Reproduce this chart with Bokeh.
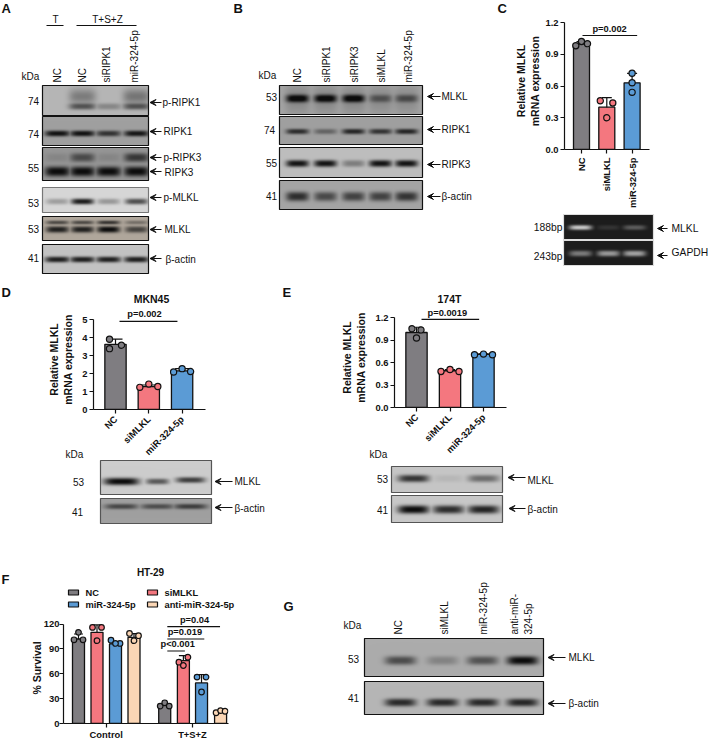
import math
import numpy as np
from bokeh.plotting import figure
from bokeh.models import Column, Arrow, VeeHead, FixedTicker, Whisker, TeeHead, ColumnDataSource, Range1d
from bokeh.core.properties import value
from bokeh.embed import file_html
from bokeh.resources import INLINE

W, H = 708, 743
FONT = "Liberation Sans"

# ---------- data: bar charts ----------
C_cats = ["NC", "siMLKL", "miR-324-5p"]
C_means = [1.00, 0.40, 0.63]
C_sd = [0.02, 0.09, 0.09]
C_pts = [[0.98, 1.02, 1.00], [0.46, 0.44, 0.30], [0.72, 0.63, 0.54]]
D_cats = ["NC", "siMLKL", "miR-324-5p"]
D_means = [3.62, 1.27, 2.15]
D_sd = [0.29, 0.09, 0.12]
D_pts = [[3.38, 3.90, 3.57], [1.23, 1.41, 1.28], [2.27, 2.08, 2.11]]
E_cats = ["NC", "siMLKL", "miR-324-5p"]
E_means = [1.00, 0.49, 0.71]
E_sd = [0.07, 0.015, 0.005]
E_pts = [[1.05, 1.035, 0.927], [0.48, 0.506, 0.48], [0.703, 0.712, 0.703]]
F_groups = ["Control", "T+S+Z"]
F_series = ["NC", "siMLKL", "miR-324-5p", "anti-miR-324-5p"]
F_means = [102, 110, 96, 104, 22, 76, 49, 14]
F_sd = [6, 9, 3, 4.5, 2, 6, 10, 1.5]
F_pts = [[110, 101, 101], [116, 116, 100], [100.5, 96.6, 96.6], [108.7, 106, 100],
         [21, 25, 21], [74, 70, 80], [56, 56, 38], [13, 15.6, 14.8]]
COL = ["#7f7d81", "#f4777f", "#5b9bd5", "#fbd6b5"]

# ---------- data: band intensities per lane ----------
A_pRIPK1 = [0.0, 0.50, 0.22, 0.50]
A_pRIPK1_smear = [0.0, 0.28, 0.0, 0.32]
A_RIPK1 = [0.95, 0.95, 0.70, 0.92]
A_RIPK3 = [1.0, 1.0, 1.0, 1.0]
A_pRIPK3 = [0.08, 0.50, 0.08, 0.65]
A_pMLKL = [0.22, 0.90, 0.25, 0.62]
A_MLKL_up = [0.55, 0.55, 0.70, 0.30]
A_MLKL_lo = [0.85, 0.85, 1.0, 0.60]
A_actin = [0.88, 0.88, 0.88, 0.88]
B_MLKL = [1.0, 1.0, 1.0, 0.40, 0.45]
B_MLKL_smear = [0.14, 0.14, 0.14, 0.12, 0.12]
B_RIPK1 = [0.75, 0.35, 0.80, 0.70, 0.80]
B_RIPK3 = [0.95, 0.95, 0.30, 0.95, 0.95]
B_actin = [0.75, 0.55, 0.60, 0.60, 0.70]
C_gel_MLKL = [0.80, 0.08, 0.25]
C_gel_GAPDH = [0.40, 0.55, 0.60]
D_MLKL = [1.0, 0.55, 0.70]
D_actin = [0.55, 0.50, 0.62]
E_MLKL = [0.75, 0.05, 0.42]
E_actin = [1.0, 0.80, 0.85]
G_MLKL = [0.55, 0.20, 0.50, 1.0]
G_actin = [0.80, 0.80, 0.80, 0.82]

page = figure(width=W, height=H, x_range=(0, W), y_range=(0, H), toolbar_location=None,
              output_backend="svg", min_border_left=0, min_border_right=0, min_border_top=0, min_border_bottom=0,
              outline_line_color=None, x_axis_location=None, y_axis_location=None,
              background_fill_alpha=0, border_fill_alpha=0)
page.grid.visible = False


def Y(py):
    return H - py


def T(x, y, s, size=10, bold=False, align="left", rot=False, color="#111111"):
    page.text([x], [Y(y)], text=[s], text_font=value(FONT), text_font_size=value(f"{size}px"),
              text_font_style="bold" if bold else "normal", text_align=align,
              text_baseline="middle", angle=math.pi / 2 if rot else 0, text_color=color)


def arrow(x0, x1, y):
    page.add_layout(Arrow(x_start=x0, y_start=Y(y), x_end=x1, y_end=Y(y), line_width=1.2, line_color="#111111",
                          end=VeeHead(size=6, line_color="#111111", fill_color="#111111", line_width=1)))


def blot(x0, x1, y0, y1, bg, layers, border="#111111", light=False):
    """layers: (lane_centres, centre_y, half_w, half_h, intensities)"""
    w, h = int(x1 - x0), int(y1 - y0)
    xx = np.arange(w) + x0 + 0.5
    yy = np.arange(h) + y0 + 0.5
    XX, YY = np.meshgrid(xx, yy)
    sig = np.zeros((h, w))
    for lanes, cy, hw, hh, vals in layers:
        for lx, v in zip(lanes, vals):
            sx = np.exp(-(np.abs(XX - lx) / hw) ** 4)
            if hh < 6:
                sy = np.exp(-(np.abs(YY - cy) / (hh * 1.15)) ** 2.6)
                sig = np.maximum(sig, v * sx * sy)
            else:
                sig = sig + v * sx * np.exp(-((YY - cy) / hh) ** 2)
    sig = np.clip(sig, 0, 1) ** 0.85
    r, g, b = bg
    tgt = 235.0 if light else 12.0
    img = np.zeros((h, w), dtype=np.uint32)
    view = img.view(dtype=np.uint8).reshape((h, w, 4))
    view[..., 0] = (r + (tgt - r) * sig).astype(np.uint8)
    view[..., 1] = (g + (tgt - g) * sig).astype(np.uint8)
    view[..., 2] = (b + (tgt - b) * sig).astype(np.uint8)
    view[..., 3] = 255
    page.image_rgba(image=[img[::-1]], x=x0, y=Y(y1), dw=w, dh=h)
    page.quad(left=[x0], right=[x1], top=[Y(y0)], bottom=[Y(y1)], fill_alpha=0,
              line_color=border, line_width=1.2)


g = lambda v: (v, v, v)

# ---------- panel letters ----------
for s, x, y in [("A", 1, 8), ("B", 233, 8), ("C", 497, 8), ("D", 1, 292), ("F", 1, 579), ("E", 282, 292), ("G", 283, 606)]:
    T(x, y, s, 13, True)

# ---------- panel A ----------
T(55, 19, "T", 10, align="center")
T(107, 19, "T+S+Z", 10, align="center")
page.segment([46, 76], [Y(25)] * 2, [63, 136], [Y(25)] * 2, line_color="#111111", line_width=1.2)
for x, s in zip([57, 82, 106, 134], ["NC", "NC", "siRIPK1", "miR-324-5p"]):
    T(x, 82, s, 10, rot=True)
T(30, 76, "kDa", 10, align="center")
la = [57, 82, 108, 136]
blot(42, 148, 85, 115, g(182), [(la, 106, 13, 2.6, A_pRIPK1), (la, 96, 13, 7, A_pRIPK1_smear)])
blot(42, 148, 116, 145, g(160), [(la, 133, 12, 2.4, A_RIPK1)])
blot(42, 148, 147, 180, g(150), [(la, 171, 12, 4.0, A_RIPK3), (la, 157, 12, 3.6, A_pRIPK3)])
blot(42, 148, 187, 212, g(215), [(la, 201, 11, 2.4, A_pMLKL)], border="#777777")
blot(42, 148, 216, 240, (176, 167, 156), [(la, 222, 11, 1.6, A_MLKL_up), (la, 229, 11, 2.6, A_MLKL_lo)])
blot(42, 148, 244, 273, g(195), [(la, 259, 12, 2.4, A_actin)])
for y, s in zip([100, 133, 167, 202, 228, 257], ["74", "74", "55", "53", "53", "41"]):
    T(33, y, s, 10, align="center")
for y, s, tx in [(102, "p-RIPK1", 162), (131, "RIPK1", 163), (157, "p-RIPK3", 163), (171, "RIPK3", 164),
                 (197, "p-MLKL", 163), (229, "MLKL", 164), (258, "β-actin", 165)]:
    arrow(161, 149.5, y)
    T(tx, y + (1 if s in ("β-actin", "RIPK3") else 0), s, 10)

# ---------- panel B ----------
for x, s in zip([297, 326, 354, 381, 408], ["NC", "siRIPK1", "siRIPK3", "siMLKL", "miR-324-5p"]):
    T(x, 82, s, 10, rot=True)
T(267, 75, "kDa", 10, align="center")
lb = [297, 325, 353, 380, 406]
blot(279, 422, 85, 114, g(165), [(lb, 98, 11, 3.2, B_MLKL), (lb, 99, 12, 14, B_MLKL_smear)])
blot(279, 422, 116, 144, g(160), [(lb, 131, 11, 2.2, B_RIPK1)])
blot(279, 422, 147, 177, g(190), [(lb, 163, 11, 2.8, B_RIPK3)])
blot(279, 422, 180, 209, g(165), [(lb, 196, 11, 3.8, B_actin)])
for y, s, x in zip([96, 129, 162, 195], ["53", "74", "55", "41"], [271, 269, 271, 271]):
    T(x, y, s, 10, align="center")
for y, s in [(96, "MLKL"), (129, "RIPK1"), (164, "RIPK3"), (196, "β-actin")]:
    arrow(440, 427, y)
    T(441, y, s, 10)

# ---------- panel C gel ----------
lc = [580, 608, 634]
blot(563, 653, 214, 239, g(28), [(lc, 227, 11, 2.0, C_gel_MLKL)], border="#dddddd", light=True)
blot(563, 653, 240, 265, g(28), [(lc, 253, 11, 2.4, C_gel_GAPDH)], border="#dddddd", light=True)
T(562, 227, "188bp", 10.3, align="right")
T(562, 256, "243bp", 10.3, align="right")
arrow(667, 657, 228)
arrow(667, 657, 255)
T(671, 228, "MLKL", 10.3)
T(671, 252, "GAPDH", 10.3)

# ---------- panel D lower ----------
T(151, 298, "MKN45", 10.5, True, align="center")
T(74, 454, "kDa", 10, align="center")
ld = [121, 157, 190]
blot(100, 211, 460, 494, g(205), [([121], 481, 17, 3, D_MLKL[:1]), ([157], 481, 11, 2.4, D_MLKL[1:2]), ([190], 479.5, 14, 2.4, D_MLKL[2:])], border="#555555")
blot(100, 211, 498, 523, g(160), [(ld, 506, 16, 2.2, D_actin)], border="#555555")
T(78, 481, "53", 10, align="center")
T(77, 511, "41", 10, align="center")
arrow(232, 214.5, 481)
arrow(232, 214.5, 507)
T(234, 481, "MLKL", 10)
T(234, 508, "β-actin", 10)

# ---------- panel E lower ----------
T(449, 298, "174T", 10.5, True, align="center")
T(378, 454, "kDa", 10, align="center")
le = [413, 448, 483]
blot(391, 502, 466, 492, g(198), [(le, 478, 15, 3.0, E_MLKL)], border="#555555")
blot(391, 502, 495, 522, g(200), [(le, 509, 15, 3.4, E_actin)], border="#555555")
T(382, 478, "53", 10, align="center")
T(382, 509, "41", 10, align="center")
arrow(525, 507.5, 477)
arrow(525, 508.5, 508)
T(527, 480, "MLKL", 10)
T(527, 509, "β-actin", 10)

# ---------- panel F legend ----------
T(150, 572, "HT-29", 10, True, align="center")
for (x, y), s, c in zip([(68, 592), (147, 592), (68, 604), (147, 604)], F_series, COL):
    page.quad(left=[x], right=[x + 10], top=[Y(y - 2.5)], bottom=[Y(y + 2.5)], fill_color=c, line_color="#111111", line_width=1.2)
    T(x + 17, y, s, 9.3, True)

# ---------- panel G ----------
for x, s in zip([398, 444, 483, 514, 528], ["NC", "siMLKL", "miR-324-5p", "anti-miR-", "324-5p"]):
    T(x, 634, s, 10, rot=True)
T(352, 625, "kDa", 10, align="center")
lg = [400, 442, 482, 522]
blot(364, 543, 638, 676, g(172), [(lg, 660, 15, 3.6, G_MLKL)])
blot(364, 543, 681, 714, g(182), [(lg, 702, 15, 3.2, G_actin)])
T(353, 658, "53", 10, align="center")
T(353, 697, "41", 10, align="center")
arrow(565, 547.5, 657)
arrow(565, 547.5, 703)
T(568, 657, "MLKL", 10)
T(568, 703, "β-actin", 10)


# ---------- bar chart helper ----------
def chart(fx0, fx1, fy0, fy1, ytop, ypix, x_pos, means, sd, pts, cols, yticks, xticks, xlabels, xunit, xc0,
          ylabel, orient, brackets, barw, ptoff, yfmt=None, cap=10, ylab_stand=5, tick_size=9.4, lab_stand=2, dot=6.2):
    L, R, TOP, B = 75, 4, 4, (72 if orient else 15)
    scale = (fy1 - ypix) / ytop
    ymax = (fy1 - fy0) / scale
    xmin = (fx0 - xc0) / xunit
    xmax = (fx1 - xc0) / xunit
    p = figure(frame_width=int(fx1 - fx0), frame_height=int(fy1 - fy0), x_range=Range1d(xmin, xmax),
               y_range=Range1d(0, ymax), toolbar_location=None, output_backend="svg",
               min_border_left=L, min_border_right=R, min_border_top=TOP, min_border_bottom=B,
               outline_line_color=None, background_fill_alpha=0, border_fill_alpha=0)
    p.width = int(fx1 - fx0) + L + R
    p.height = int(fy1 - fy0) + TOP + B
    p.grid.visible = False
    for ax in (p.xaxis[0], p.yaxis[0]):
        ax.axis_line_width = 1.2
        ax.axis_line_color = "#111111"
        ax.major_tick_line_width = 1.2
        ax.major_tick_line_color = "#111111"
        ax.major_tick_in = 0
        ax.major_tick_out = 4
        ax.minor_tick_line_color = None
        ax.major_label_text_font = FONT
        ax.major_label_text_font_style = "bold"
        ax.major_label_text_font_size = f"{tick_size}px"
        ax.major_label_text_color = "#111111"
    p.yaxis[0].bounds = (0, ytop)
    p.yaxis[0].ticker = FixedTicker(ticks=yticks)
    p.yaxis[0].major_label_overrides = {t: (yfmt % t if yfmt else str(t)) for t in yticks}
    p.yaxis[0].axis_label = ylabel
    p.yaxis[0].axis_label_text_font = FONT
    p.yaxis[0].axis_label_text_font_style = "bold"
    p.yaxis[0].axis_label_text_font_size = "10.5px"
    p.yaxis[0].axis_label_text_color = "#111111"
    p.yaxis[0].axis_label_standoff = ylab_stand
    p.yaxis[0].major_label_standoff = lab_stand
    p.xaxis[0].ticker = FixedTicker(ticks=xticks)
    p.xaxis[0].major_label_overrides = dict(zip(xticks, xlabels))
    p.xaxis[0].major_label_standoff = 4 if orient else 1
    if orient:
        p.xaxis[0].major_label_orientation = orient
    p.vbar(x=x_pos, top=means, width=barw / xunit, bottom=0, fill_color=cols, line_color="#111111", line_width=1.3)
    src = ColumnDataSource(dict(x=x_pos, up=[m + s for m, s in zip(means, sd)], lo=[m - s for m, s in zip(means, sd)]))
    p.add_layout(Whisker(source=src, base="x", upper="up", lower="lo", line_color="#111111", line_width=1.2,
                         upper_head=TeeHead(size=cap, line_color="#111111", line_width=1.2),
                         lower_head=TeeHead(size=cap, line_color="#111111", line_width=1.2)))
    for x, ys, c, offs in zip(x_pos, pts, cols, ptoff):
        p.scatter([x + o / xunit for o in offs], ys, size=dot, fill_color=c, line_color="#111111", line_width=1.2)
    for s, x0, x1, yv, tx, ty in brackets:
        p.segment([x0], [yv], [x1], [yv], line_color="#111111", line_width=1.2)
        p.text([tx], [ty], text=[s], text_font=value(FONT), text_font_style="bold", text_font_size=value("9.3px"),
               text_align="center", text_baseline="middle", text_color="#111111")
    # each chart sits in its own positioned box so the column does not align its frame with the others
    return Column(children=[p], width=p.width, height=p.height,
                  styles={"position": "absolute", "left": f"{int(fx0) - L}px", "top": f"{int(fy0) - TOP}px"})


pC = chart(564, 649, 12, 149, 1.2, 22, [0, 1, 2], C_means, C_sd, C_pts, COL[:3], [0.0, 0.3, 0.6, 0.9, 1.2], [0, 1, 2], C_cats,
           25.3, 581, "Relative MLKL\nmRNA expression", math.pi / 2,
           [("p=0.002", 0.04, 2.2, 1.077, 1.11, 1.135)], 16, [[-5.7, 0, 6], [-6.5, 6, 0], [0, 0, 0]], yfmt="%.1f", cap=10, ylab_stand=1)
pD = chart(93, 205, 309, 409, 5, 319, [0, 1, 2], D_means, D_sd, D_pts, COL[:3], [0, 1, 2, 3, 4, 5], [0, 1, 2], D_cats,
           33.3, 115, "Relative MLKL\nmRNA expression", math.pi / 4,
           [("p=0.002", 0.12, 1.86, 4.9, 0.87, 5.32)], 21.3, [[-6, -6, 6], [-9, 0, 9], [0, -8.5, 8.5]], cap=14)
pE = chart(394, 506, 307, 407, 1.2, 317, [0, 1, 2], E_means, E_sd, E_pts, COL[:3], [0.0, 0.3, 0.6, 0.9, 1.2], [0, 1, 2], E_cats,
           33.5, 416, "Relative MLKL\nmRNA expression", math.pi / 4,
           [("p=0.0019", 0.15, 1.87, 1.175, 0.92, 1.265)], 21.3, [[-4.5, 4.5, 0], [-9, 0, 9], [-9, 0, 9]], yfmt="%.1f", cap=10)
F_x = [0, 1, 2, 3, 4.66, 5.67, 6.65, 7.68]
pF = chart(63, 228, 612, 727, 120, 624, F_x, F_means, F_sd, F_pts, COL * 2, [0, 30, 60, 90, 120], [1.5, 6.16], F_groups,
           18.5, 78, "% Survival", 0,
           [("p<0.001", 4.8, 5.75, 87.5, 5.36, 95.5), ("p=0.019", 4.8, 6.8, 102, 5.75, 110), ("p=0.04", 4.8, 7.65, 117, 6.27, 125)],
           12, [[0, -4.5, 4.5], [-4.5, 4.5, 0], [-4.5, 4.5, 0], [-4.5, 4.5, 0], [-4.5, 0, 4.5], [-4.5, 0, 4.5], [-4.5, 4.5, 0], [-4.5, 0, 4.5]],
           cap=9, ylab_stand=-2, lab_stand=0, dot=5.6)

pagebox = Column(children=[page], width=W, height=H, styles={"position": "absolute", "left": "0px", "top": "0px"})
root = Column(children=[pagebox, pC, pD, pE, pF], width=W, height=H,
              styles={"position": "absolute", "left": "0px", "top": "0px"})
open("out.html", "w").write(file_html(root, INLINE))
